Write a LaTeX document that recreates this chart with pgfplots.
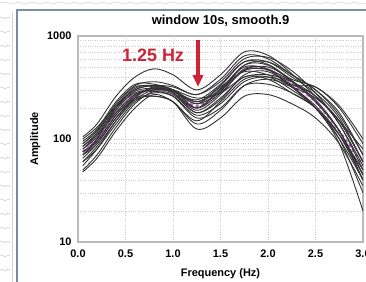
\documentclass[border=0pt]{standalone}
\usepackage{pgfplots}
\pgfplotsset{compat=1.18}
\usepackage{pgfplotstable}
\usepackage{fontspec}
\setmainfont{Liberation Sans}
\usetikzlibrary{decorations.pathmorphing,arrows.meta}
\definecolor{arrowred}{RGB}{205,35,55}
\definecolor{panel}{RGB}{125,140,165}
\definecolor{meancol}{RGB}{185,90,200}
\pgfplotstableread{
x c1 c2 c3 c4 c5 c6 c7 c8 c9 c10 c11 c12 c13 c14 c15 c16 c17 c18 c19 c20 m
0.05 105 90 80 70 60 50 48 85 95 75 65 80 70 90 60 100 55 75 85 70 75
0.2 140 120 110 95 85 70 65 115 125 100 90 105 100 120 80 130 80 95 110 90 100
0.4 260 220 200 170 150 130 120 210 230 180 160 190 200 200 140 210 150 170 180 160 180
0.6 400 330 300 260 240 220 200 320 340 270 250 290 310 280 230 300 250 260 270 240 270
0.8 480 360 330 310 300 290 270 320 340 290 260 310 330 300 280 330 320 320 300 260 300
1.0 420 330 300 290 280 270 230 280 300 260 230 300 280 290 260 320 300 300 290 230 280
1.25 300 270 230 200 190 180 150 180 220 160 125 250 200 240 170 270 200 230 220 140 210
1.5 420 380 330 300 270 240 230 250 320 200 160 280 310 340 220 360 280 300 290 190 290
1.75 700 640 560 520 480 420 380 400 450 330 260 400 500 560 360 600 460 470 520 330 470
2.0 650 600 560 520 480 450 400 380 420 340 270 420 470 530 400 620 470 500 560 380 470
2.25 430 420 400 360 330 320 300 280 330 280 220 360 320 380 340 460 360 370 420 320 340
2.5 260 300 280 230 200 210 200 200 320 200 160 260 200 320 260 280 240 230 300 250 230
2.75 150 180 160 120 100 110 90 110 200 100 90 150 110 210 140 140 120 120 170 150 120
3.0 80 70 60 45 40 40 20 50 90 30 35 60 45 100 50 55 40 45 70 60 55
}\spectra
\begin{document}
\begin{tikzpicture}
\clip (0bp,0bp) rectangle (366bp,282bp);
\fill[white] (0bp,0bp) rectangle (366bp,282bp);
% paper edge decoration
\draw[gray!45, decorate, decoration={snake, amplitude=1bp, segment length=14bp}] (0bp,279bp) -- (366bp,279bp);
\foreach \yy in {12,26,40,54,68,82,96,110,124,138,152,166,180,194,208,222,236,250,264}
  \draw[gray!45, decorate, decoration={snake, amplitude=0.8bp, segment length=6bp}] (0bp,\yy bp) -- (11bp,\yy bp);
\draw[gray!35, line width=0.8bp] (12bp,0bp) -- (12bp,270bp);
\draw[panel, line width=2bp] (17bp,0bp) -- (17bp,272bp) -- (366bp,272bp);
\begin{axis}[
  at={(78bp,40bp)}, anchor=south west,
  scale only axis, width=285bp, height=206bp,
  ymode=log, xmin=0, xmax=3, ymin=10, ymax=1000,
  xtick={0,0.5,1,1.5,2,2.5,3},
  xticklabels={0.0,0.5,1.0,1.5,2.0,2.5,3.0},
  ytick={10,100,1000}, yticklabels={10,100,1000},
  major tick length=0pt, minor tick length=0pt,
  grid=both,
  major grid style={gray!40, dotted, line width=0.6bp},
  minor grid style={gray!40, dotted, line width=0.6bp},
  minor xtick={},
  axis line style={gray!55, line width=1.2bp},
  tick label style={font=\fontsize{11}{13}\selectfont\bfseries},
  xticklabel style={yshift=-4bp},
  yticklabel style={xshift=-3bp},
  spec/.style={black!80, line width=0.9bp, smooth, tension=0.55, no marks},
  clip mode=individual,
]
\addplot[spec] table[x=x,y=c1] {\spectra};
\addplot[spec] table[x=x,y=c2] {\spectra};
\addplot[spec] table[x=x,y=c3] {\spectra};
\addplot[spec] table[x=x,y=c4] {\spectra};
\addplot[spec] table[x=x,y=c5] {\spectra};
\addplot[spec] table[x=x,y=c6] {\spectra};
\addplot[spec] table[x=x,y=c7] {\spectra};
\addplot[spec] table[x=x,y=c8] {\spectra};
\addplot[spec] table[x=x,y=c9] {\spectra};
\addplot[spec] table[x=x,y=c10] {\spectra};
\addplot[meancol, line width=2.2bp, dashed, smooth, tension=0.55, no marks] table[x=x,y=m] {\spectra};
\addplot[spec] table[x=x,y=c11] {\spectra};
\addplot[spec] table[x=x,y=c12] {\spectra};
\addplot[spec] table[x=x,y=c13] {\spectra};
\addplot[spec] table[x=x,y=c14] {\spectra};
\addplot[spec] table[x=x,y=c15] {\spectra};
\addplot[spec] table[x=x,y=c16] {\spectra};
\addplot[spec] table[x=x,y=c17] {\spectra};
\addplot[spec] table[x=x,y=c18] {\spectra};
\addplot[spec] table[x=x,y=c19] {\spectra};
\addplot[spec] table[x=x,y=c20] {\spectra};
\draw[arrowred, line width=3.5bp, -{Triangle[width=10bp,length=12bp]}] (axis cs:1.263,920) -- (axis cs:1.263,320);
\node[arrowred, font=\fontsize{18}{20}\selectfont\bfseries] at (axis cs:0.79,650) {1.25 Hz};
\node[font=\fontsize{13}{15}\selectfont\bfseries, anchor=center] at (axis description cs:0.5,1.073) {window 10s, smooth.9};
\node[font=\fontsize{11}{13}\selectfont\bfseries, anchor=center] at (axis description cs:0.5,-0.155) {Frequency (Hz)};
\node[font=\fontsize{11}{13}\selectfont\bfseries, anchor=center, rotate=90] at (axis description cs:-0.15,0.5) {Amplitude};
\end{axis}
\end{tikzpicture}
\end{document}
